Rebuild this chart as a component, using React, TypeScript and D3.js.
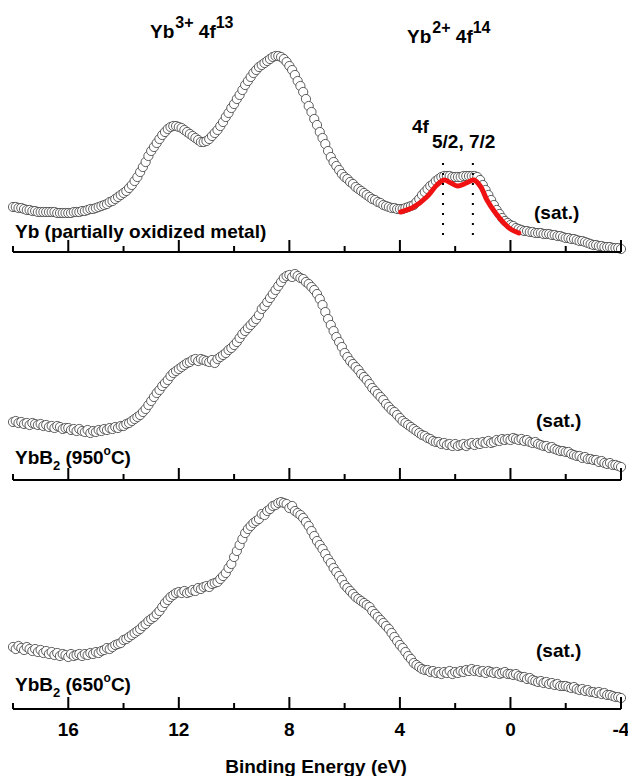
import React from "react";
import * as d3 from "d3";

// Binding energy grid: first point and spacing (eV)
const E_START = 18;
const E_STEP = 0.1;

// Panel 1: Yb (partially oxidized metal), intensity (a.u.) from 18 eV down to -4 eV
const ybMetal = [
  45,45,44,44,43,42,42,41,41,40,
  40,40,40,40,40,40,39,39,39,39,
  39,39,40,40,40,41,41,42,43,43,
  44,45,46,47,48,50,51,53,55,57,
  59,61,64,67,71,75,80,85,90,96,
  101,105,109,113,117,120,123,125,126,126,
  125,124,122,120,118,116,114,112,110,110,
  111,113,116,119,122,126,130,135,139,144,
  148,153,157,162,167,171,175,179,182,185,
  187,189,191,193,195,196,196,195,193,190,
  186,182,177,171,166,160,153,146,140,133,
  127,120,114,108,101,95,90,86,82,78,
  75,73,70,68,65,63,61,59,57,55,
  53,52,50,49,47,46,45,44,44,43,
  43,43,44,45,46,47,50,53,57,60,
  63,66,68,71,73,75,76,76,76,75,
  75,75,75,76,76,76,76,76,75,72,
  67,62,57,52,47,42,38,34,31,29,
  27,26,24,23,22,21,21,20,20,19,
  19,19,18,18,18,17,17,16,16,15,
  14,14,13,13,12,11,11,10,9,8,
  7,7,6,6,5,5,5,4,4,4,
  3,
];

// Panel 2: YbB2 (950 °C)
const ybB2_950 = [
  58,59,57,58,56,57,55,57,56,55,
  56,54,55,53,54,52,54,53,51,52,
  52,50,51,49,51,49,48,50,47,49,
  48,50,49,51,50,52,51,53,52,54,
  54,56,57,59,61,63,65,68,71,75,
  79,83,87,90,94,97,100,104,107,109,
  111,113,115,117,118,120,121,119,121,120,
  119,118,120,117,121,123,125,127,130,132,
  135,138,142,146,149,152,155,158,161,165,
  171,174,178,182,186,190,194,198,202,204,
  205,203,206,204,202,201,198,196,193,190,
  186,181,175,168,161,155,149,143,138,133,
  127,123,119,116,113,110,106,103,100,96,
  92,89,86,83,80,76,73,70,68,65,
  62,59,57,55,53,51,49,47,45,44,
  42,41,39,38,38,36,37,35,36,34,
  36,34,35,36,34,36,37,35,37,36,
  38,37,39,37,38,40,39,41,40,41,
  40,42,41,40,41,39,40,38,37,38,
  36,35,34,34,32,33,31,30,29,29,
  28,28,26,25,24,24,22,23,21,21,
  20,20,18,19,17,16,17,15,15,14,
  13,
];

// Panel 3: YbB2 (650 °C)
const ybB2_650 = [
  62,60,63,61,59,62,60,58,60,57,
  59,56,58,55,57,54,56,53,55,54,
  52,55,53,54,55,53,55,54,56,55,
  57,56,58,59,61,60,62,64,65,66,
  69,70,72,74,76,78,80,83,85,88,
  90,92,95,98,102,106,109,112,114,116,
  117,116,118,116,117,119,118,121,120,122,
  123,122,125,126,127,130,133,136,141,145,
  152,158,164,170,176,180,183,186,188,190,
  195,194,198,200,203,204,206,207,206,205,
  201,203,198,196,194,191,187,183,178,173,
  168,164,160,155,150,146,141,137,133,129,
  124,121,118,115,112,110,108,106,104,102,
  98,95,92,89,86,83,80,76,72,68,
  64,61,57,53,50,46,44,42,40,39,
  39,37,38,36,37,35,37,36,38,35,
  37,36,38,37,39,38,40,38,39,37,
  38,36,38,37,36,37,35,36,37,35,
  35,34,35,33,32,32,30,31,29,28,
  27,28,26,27,25,26,24,25,23,23,
  23,22,21,22,20,19,20,18,19,17,
  17,16,17,15,16,14,14,13,12,12,
  11,
];

// Red fit of the Yb2+ 4f doublet (panel 1)
const fitEnergy = [3.97, 3.5, 3.03, 2.66, 2.4, 2.15, 1.92, 1.6, 1.32, 1.07, 0.85, 0.54, 0.24, 0.0, -0.3];
const fitIntensity = [40, 45, 55, 67, 72, 69, 66, 69, 72, 65, 52, 39, 29, 23, 19];

// 4f5/2 and 4f7/2 positions (eV) and dotted-line extent (a.u.)
const peakPositions = [2.44, 1.36];
const peakLineRange = [15, 89];

const majorTicks = [16, 12, 8, 4, 0, -4];
const minorTicks = [18, 14, 10, 6, 2, -2];
const tickLabels = ["16", "12", "8", "4", "0", "-4"];

const panelSeries = [ybMetal, ybB2_950, ybB2_650];

const W = 628;
const H = 776;
const FONT = "Arial, 'Liberation Sans', Helvetica, sans-serif";
const axisYs = [252, 480, 709];

export default function App() {
  const x = d3.scaleLinear().domain([18, -4]).range([13, 621]);
  const yScales = axisYs.map((ay) => d3.scaleLinear().domain([0, 200]).range([ay, ay - 200]));

  const fitLine = d3
    .line<number>()
    .x((_, i) => x(fitEnergy[i]))
    .y((d) => yScales[0](d))
    .curve(d3.curveCatmullRom.alpha(0.5));

  const txt = { fontFamily: FONT, fontWeight: 700, fill: "#000" } as const;

  return (
    <svg
      width={W}
      height={H}
      viewBox={`0 0 ${W} ${H}`}
      style={{ position: "absolute", left: 0, top: 0, background: "#fff" }}
    >
      <rect x={0} y={0} width={W} height={H} fill="#fff" />

      {/* Data panels */}
      {panelSeries.map((series, p) => {
        const y = yScales[p];
        const ay = axisYs[p];
        return (
          <g key={p}>
            {series.map((v, i) => (
              <circle
                key={i}
                cx={x(E_START - i * E_STEP)}
                cy={y(v)}
                r={4.6}
                fill="#fff"
                stroke="#3a3a3a"
                strokeWidth={0.8}
              />
            ))}
            {/* axis */}
            <line x1={x(18)} x2={x(-4)} y1={ay} y2={ay} stroke="#000" strokeWidth={2} />
            {majorTicks.map((t) => (
              <line key={"M" + t} x1={x(t)} x2={x(t)} y1={ay} y2={ay - 12} stroke="#000" strokeWidth={2} />
            ))}
            {minorTicks.map((t) => (
              <line key={"m" + t} x1={x(t)} x2={x(t)} y1={ay} y2={ay - 6} stroke="#000" strokeWidth={2} />
            ))}
          </g>
        );
      })}

      {/* Fit line and peak markers */}
      <path d={fitLine(fitIntensity) || ""} fill="none" stroke="#f01212" strokeWidth={5} strokeLinecap="round" />
      {peakPositions.map((e) => (
        <line
          key={e}
          x1={x(e)}
          x2={x(e)}
          y1={yScales[0](peakLineRange[1])}
          y2={yScales[0](peakLineRange[0])}
          stroke="#000"
          strokeWidth={2}
          strokeDasharray="2,8"
        />
      ))}

      {/* Tick labels */}
      {majorTicks.map((t, i) => (
        <text key={t} x={x(t)} y={736} textAnchor="middle" fontSize={19} {...txt}>
          {tickLabels[i]}
        </text>
      ))}
      <text x={316} y={773} textAnchor="middle" fontSize={19} {...txt}>
        Binding Energy (eV)
      </text>

      {/* Headers */}
      <text x={150} y={38} fontSize={19} {...txt}>
        Yb<tspan dx={1} dy={-10} fontSize={16}>3+</tspan>
        <tspan dy={10} fontSize={19}> 4f</tspan>
        <tspan dy={-10} fontSize={16}>13</tspan>
      </text>
      <text x={407} y={43} fontSize={19} {...txt}>
        Yb<tspan dx={1} dy={-10} fontSize={16}>2+</tspan>
        <tspan dy={10} fontSize={19}> 4f</tspan>
        <tspan dy={-10} fontSize={16}>14</tspan>
      </text>

      {/* 4f doublet label */}
      <text x={412} y={133} fontSize={19} {...txt}>
        4f
      </text>
      <text x={432} y={148} fontSize={19} {...txt}>
        5/2, 7/2
      </text>

      {/* (sat.) labels */}
      <text x={534} y={219} fontSize={19} {...txt}>(sat.)</text>
      <text x={536} y={427} fontSize={19} {...txt}>(sat.)</text>
      <text x={536} y={657} fontSize={19} {...txt}>(sat.)</text>

      {/* Sample labels */}
      <text x={15} y={238} fontSize={19} {...txt}>
        Yb (partially oxidized metal)
      </text>
      <text x={15} y={464} fontSize={19} {...txt}>
        YbB<tspan dy={6} fontSize={13}>2</tspan>
        <tspan dy={-6} fontSize={19}> (950</tspan>
        <tspan dy={-9} fontSize={12}>o</tspan>
        <tspan dy={9} fontSize={19}>C)</tspan>
      </text>
      <text x={15} y={691} fontSize={19} {...txt}>
        YbB<tspan dy={6} fontSize={13}>2</tspan>
        <tspan dy={-6} fontSize={19}> (650</tspan>
        <tspan dy={-9} fontSize={12}>o</tspan>
        <tspan dy={9} fontSize={19}>C)</tspan>
      </text>
    </svg>
  );
}
